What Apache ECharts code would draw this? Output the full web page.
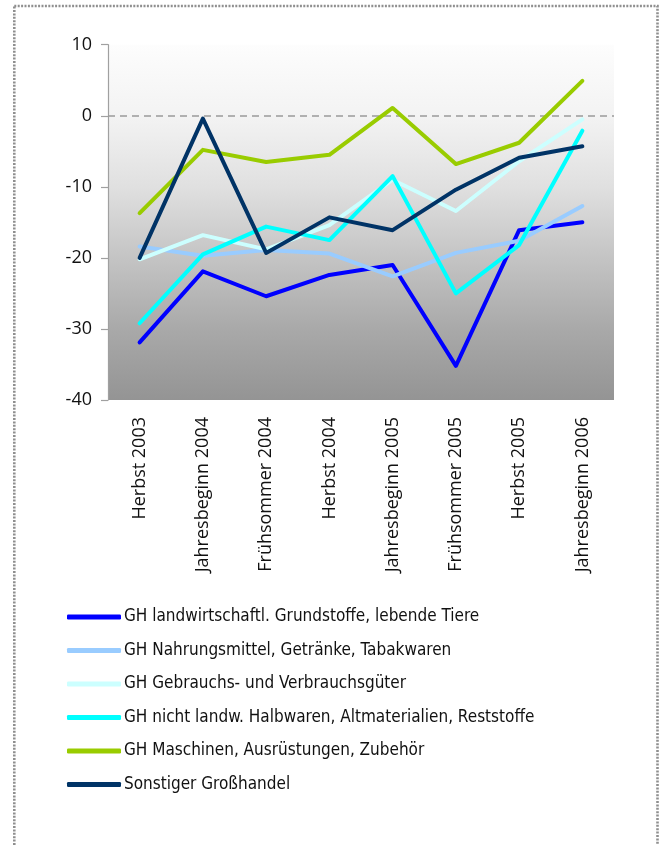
<!DOCTYPE html>
<html>
<head>
<meta charset="utf-8">
<script src="https://cdn.jsdelivr.net/npm/echarts@6/dist/echarts.min.js"></script>
<style>
  html, body { margin: 0; padding: 0; background: #ffffff; }
  #chart { width: 665px; height: 845px; }
</style>
</head>
<body>
<div id="chart"></div>
<script>
// Survey periods (x axis)
const periods = [
  'Herbst 2003', 'Jahresbeginn 2004', 'Frühsommer 2004', 'Herbst 2004',
  'Jahresbeginn 2005', 'Frühsommer 2005', 'Herbst 2005', 'Jahresbeginn 2006'
];

// Balance values per wholesale branch
const landwirtschaft = [-31.9, -21.9, -25.4, -22.4, -21.0, -35.2, -16.1, -15.0];
const nahrungsmittel = [-18.4, -19.7, -18.9, -19.4, -22.6, -19.3, -17.6, -12.7];
const gebrauchsgueter = [-20.2, -16.8, -18.8, -15.4, -9.0, -13.4, -6.4, -0.5];
const halbwaren = [-29.2, -19.5, -15.6, -17.5, -8.5, -25.0, -18.2, -2.1];
const maschinen = [-13.7, -4.8, -6.5, -5.5, 1.1, -6.8, -3.8, 4.9];
const sonstige = [-20.0, -0.4, -19.3, -14.3, -16.1, -10.4, -5.9, -4.3];

const seriesNames = [
  'GH landwirtschaftl. Grundstoffe, lebende Tiere',
  'GH Nahrungsmittel, Getränke, Tabakwaren',
  'GH Gebrauchs- und Verbrauchsgüter',
  'GH nicht landw. Halbwaren, Altmaterialien, Reststoffe',
  'GH Maschinen, Ausrüstungen, Zubehör',
  'Sonstiger Großhandel'
];
const seriesData = [landwirtschaft, nahrungsmittel, gebrauchsgueter, halbwaren, maschinen, sonstige];
const seriesColors = ['#0000ff', '#99ccff', '#ccffff', '#00ffff', '#99cc00', '#003366'];

// Y axis scale
const yMin = -40, yMax = 10, yStep = 10;

const chart = echarts.init(document.getElementById('chart'), null, { renderer: 'canvas' });

const series = seriesData.map((data, i) => {
  const s = {
    name: seriesNames[i],
    type: 'line',
    data: data,
    symbol: 'none',
    color: seriesColors[i],
    lineStyle: { width: 4, color: seriesColors[i], cap: 'round', join: 'round' },
    emphasis: { disabled: true },
    z: 3 + i
  };
  if (i === 0) {
    // dashed zero reference line
    s.markLine = {
      silent: true,
      symbol: 'none',
      label: { show: false },
      lineStyle: { type: [7, 5], color: '#9a9a9a', width: 1.5 },
      data: [{ yAxis: 0 }],
      z: 1
    };
  }
  return s;
});

chart.setOption({
  animation: false,
  backgroundColor: '#ffffff',
  textStyle: { fontFamily: 'Open Sans' },
  graphic: [{
    type: 'rect',
    shape: { x: 14.3, y: 6, width: 643.2, height: 900 },
    style: { fill: 'none', stroke: '#8f8f8f', lineWidth: 2.6, lineDash: [2, 1.4] },
    silent: true
  }],
  grid: {
    left: 108, right: 51, top: 44.7, bottom: 445,
    show: true,
    borderWidth: 0,
    backgroundColor: {
      type: 'linear', x: 0, y: 0, x2: 0, y2: 1,
      colorStops: [
        { offset: 0, color: '#fdfdfd' },
        { offset: 0.2, color: '#f3f3f3' },
        { offset: 0.4, color: '#e0e0e0' },
        { offset: 0.6, color: '#c4c4c4' },
        { offset: 0.8, color: '#a9a9a9' },
        { offset: 1, color: '#949494' }
      ]
    }
  },
  legend: {
    orient: 'vertical',
    left: 62, top: 602,
    itemWidth: 54, itemHeight: 5,
    itemGap: 13.5,
    icon: 'roundRect',
    selectedMode: false,
    textStyle: {
      fontFamily: "'DejaVu Sans Condensed', sans-serif",
      fontSize: 17, lineHeight: 20, color: '#111111', padding: [0, 0, 0, -2]
    },
    data: seriesNames
  },
  xAxis: {
    type: 'category',
    data: periods,
    boundaryGap: true,
    axisLine: { show: false },
    axisTick: { show: false },
    axisLabel: {
      rotate: 90, fontSize: 18, color: '#111111', margin: 17,
      interval: 0, fontFamily: 'Open Sans'
    }
  },
  yAxis: {
    type: 'value',
    min: yMin, max: yMax, interval: yStep,
    axisLine: { show: true, lineStyle: { color: '#a0a0a0', width: 1.2 } },
    axisTick: { show: true, length: 7, lineStyle: { color: '#a0a0a0', width: 1.2 } },
    splitLine: { show: false },
    axisLabel: { fontSize: 18, color: '#111111', margin: 16, fontFamily: 'Open Sans' }
  },
  series: series
});
</script>
</body>
</html>
